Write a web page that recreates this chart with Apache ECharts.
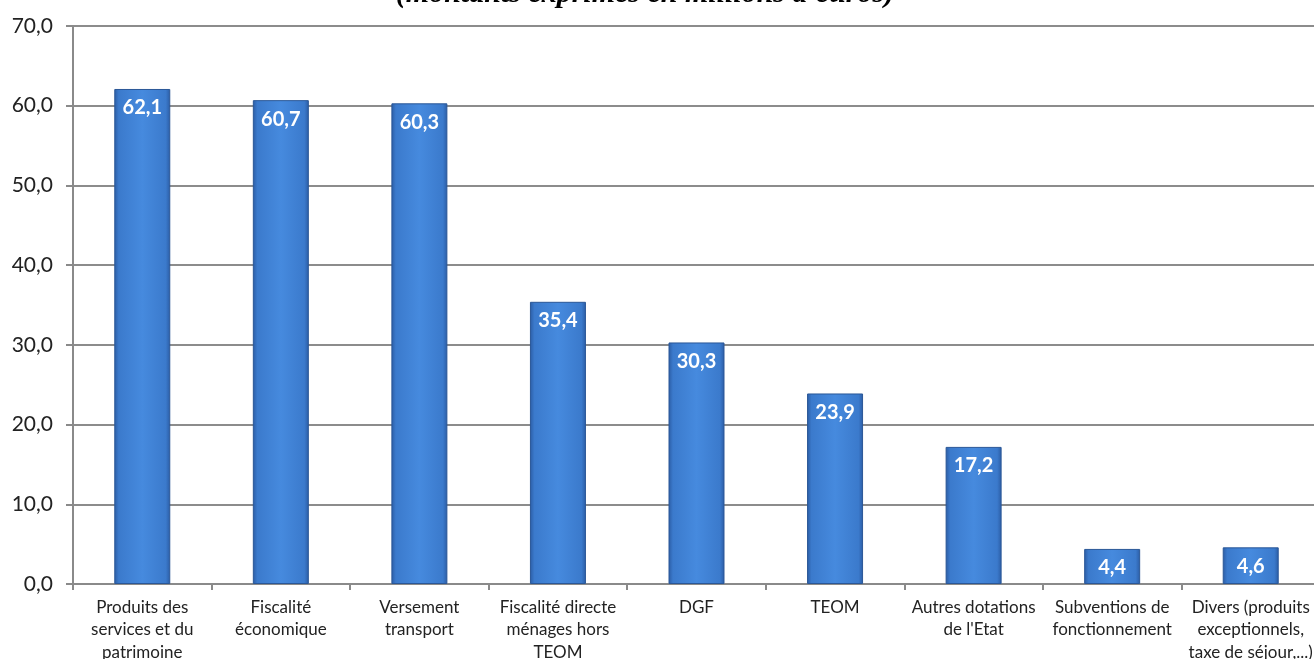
<!DOCTYPE html>
<html>
<head>
<meta charset="utf-8">
<script src="https://cdn.jsdelivr.net/npm/echarts@6/dist/echarts.min.js"></script>
<style>
html,body{margin:0;padding:0;background:#fff;}
#chart{width:1314px;height:659px;}
</style>
</head>
<body>
<div id="chart"></div>
<script>
var categories = [
  "Produits des\nservices et du\npatrimoine",
  "Fiscalité\néconomique",
  "Versement\ntransport",
  "Fiscalité directe\nménages hors\nTEOM",
  "DGF",
  "TEOM",
  "Autres dotations\nde l'Etat",
  "Subventions de\nfonctionnement",
  "Divers (produits\nexceptionnels,\ntaxe de séjour,...)"
];
var values = [62.1, 60.7, 60.3, 35.4, 30.3, 23.9, 17.2, 4.4, 4.6];
var titleText = "(montants exprimés en millions d'euros)";

var chart = echarts.init(document.getElementById('chart'));
var fmt = function (v) { return v.toFixed(1).replace('.', ','); };

chart.setOption({
  animation: false,
  backgroundColor: '#ffffff',
  graphic: [{
    type: 'text',
    style: {
      text: titleText,
      x: 645, y: 9,
      textAlign: 'center',
      textVerticalAlign: 'bottom',
      font: 'italic bold 30px "Liberation Serif"',
      fill: '#000'
    }
  }],
  grid: { left: 73, right: -6, top: 26, bottom: 75, containLabel: false, outerBoundsMode: 'none' },
  xAxis: {
    type: 'category',
    data: categories,
    axisLine: { lineStyle: { color: '#8a8a8a', width: 2 } },
    axisTick: { show: true, length: 6, lineStyle: { color: '#8a8a8a', width: 2 } },
    axisLabel: {
      interval: 0,
      margin: 12,
      color: '#222',
      fontFamily: 'Lato',
      fontSize: 17,
      lineHeight: 22.5
    }
  },
  yAxis: {
    type: 'value',
    min: 0, max: 70, interval: 10,
    axisLine: { show: true, lineStyle: { color: '#8a8a8a', width: 2 } },
    axisTick: { show: true, length: 7, lineStyle: { color: '#8a8a8a', width: 2 } },
    splitLine: { lineStyle: { color: '#8c8c8c', width: 2 } },
    axisLabel: {
      margin: 20,
      color: '#222',
      fontFamily: 'Lato',
      fontSize: 21,
      formatter: fmt
    }
  },
  series: [{
    type: 'bar',
    data: values,
    barWidth: 56,
    itemStyle: {
      color: new echarts.graphic.LinearGradient(0, 0, 1, 0, [
        { offset: 0, color: '#2b5ca4' },
        { offset: 0.08, color: '#3b7acc' },
        { offset: 0.5, color: '#468ade' },
        { offset: 0.92, color: '#3b7acc' },
        { offset: 1, color: '#2b5ca4' }
      ]),
      borderColor: '#2a5797',
      borderWidth: 1
    },
    label: {
      show: true,
      position: 'insideTop',
      distance: 9,
      color: '#fff',
      fontFamily: 'Lato',
      fontWeight: 'bold',
      fontSize: 20,
      formatter: function (p) { return fmt(p.value); }
    }
  }]
});
</script>
</body>
</html>
